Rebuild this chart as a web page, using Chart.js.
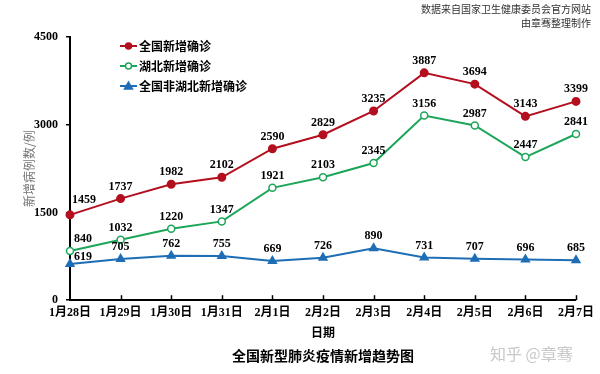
<!DOCTYPE html>
<html>
<head>
<meta charset="utf-8">
<script src="https://cdn.jsdelivr.net/npm/chart.js@4/dist/chart.umd.min.js"></script>
<style>
  html, body { margin: 0; padding: 0; background: #fff; }
  #wrap { position: relative; width: 600px; height: 374px; }
  canvas { position: absolute; left: 0; top: 0; }
  .src { position: absolute; right: 9px; font: 10px "Noto Sans CJK SC", sans-serif; color: #333; text-align: right; line-height: 12px; }
  .wm { position: absolute; left: 490px; top: 341px; font: 16px "Noto Sans CJK SC", sans-serif; color: #c8c8c8; }
</style>
</head>
<body>
<div id="wrap">
  <canvas id="c" width="600" height="374"></canvas>
  <div class="src" style="top:3px">数据来自国家卫生健康委员会官方网站</div>
  <div class="src" style="top:17px">由章骞整理制作</div>
  <div class="wm">知乎 @章骞</div>
</div>
<script>
const categories = ['1月28日','1月29日','1月30日','1月31日','2月1日','2月2日','2月3日','2月4日','2月5日','2月6日','2月7日'];
const national = [1459, 1737, 1982, 2102, 2590, 2829, 3235, 3887, 3694, 3143, 3399];
const hubei = [840, 1032, 1220, 1347, 1921, 2103, 2345, 3156, 2987, 2447, 2841];
const nonHubei = [619, 705, 762, 755, 669, 726, 890, 731, 707, 696, 685];
const seriesNames = ['全国新增确诊', '湖北新增确诊', '全国非湖北新增确诊'];
const yTicks = [0, 1500, 3000, 4500];

const RED = '#B40F1E', GREEN = '#1DA65A', BLUE = '#1E6EB6';
const NUM_FONT = 'bold 12px "Liberation Serif", "Noto Sans CJK SC", serif';

const labelPlugin = {
  id: 'valueLabels',
  afterDatasetsDraw(chart) {
    const ctx = chart.ctx;
    ctx.save();
    ctx.font = NUM_FONT;
    ctx.fillStyle = '#000';
    ctx.textAlign = 'center';
    ctx.textBaseline = 'middle';
    const firstOffsets = [[14, -15], [13, -12], [13, -7]];
    chart.data.datasets.forEach((ds, di) => {
      const meta = chart.getDatasetMeta(di);
      meta.data.forEach((pt, i) => {
        let dx = 0, dy = -12;
        if (i === 0) { dx = firstOffsets[di][0]; dy = firstOffsets[di][1]; }
        ctx.fillText(String(ds.data[i]), pt.x + dx, pt.y + dy);
      });
    });
    ctx.restore();
  }
};

const legendPlugin = {
  id: 'innerLegend',
  afterDraw(chart) {
    const ctx = chart.ctx;
    ctx.save();
    const x0 = 120, ys = [46, 66, 86];
    chart.data.datasets.forEach((ds, di) => {
      const y = ys[di];
      ctx.strokeStyle = ds.borderColor;
      ctx.lineWidth = 2;
      ctx.beginPath(); ctx.moveTo(x0, y); ctx.lineTo(x0 + 17, y); ctx.stroke();
      const cx = x0 + 8.5;
      ctx.fillStyle = ds.pointBackgroundColor;
      ctx.strokeStyle = ds.borderColor;
      ctx.lineWidth = 1.5;
      ctx.beginPath();
      if (ds.pointStyle === 'triangle') {
        ctx.moveTo(cx, y - 4); ctx.lineTo(cx + 4, y + 3); ctx.lineTo(cx - 4, y + 3); ctx.closePath();
      } else {
        ctx.arc(cx, y, 3, 0, Math.PI * 2);
      }
      ctx.fill(); ctx.stroke();
      ctx.fillStyle = '#000';
      ctx.font = 'bold 12px "Noto Sans CJK SC", serif';
      ctx.textAlign = 'left';
      ctx.textBaseline = 'middle';
      ctx.fillText(seriesNames[di], x0 + 19, y);
    });
    ctx.restore();
  }
};

const xTickPlugin = {
  id: 'xInnerTicks',
  afterDraw(chart) {
    const ctx = chart.ctx;
    const xs = chart.scales.x;
    const bottom = chart.chartArea.bottom;
    ctx.save();
    ctx.strokeStyle = '#000';
    ctx.lineWidth = 1.5;
    xs.ticks.forEach((t, i) => {
      if (i === 0) return;
      const px = Math.round(xs.getPixelForTick(i)) + 0.5;
      ctx.beginPath(); ctx.moveTo(px, bottom); ctx.lineTo(px, bottom - 5); ctx.stroke();
    });
    ctx.restore();
  }
};

new Chart(document.getElementById('c'), {
  type: 'line',
  data: {
    labels: categories,
    datasets: [
      { label: seriesNames[0], data: national, borderColor: RED, backgroundColor: RED,
        pointBackgroundColor: RED, pointBorderColor: RED, pointStyle: 'circle', pointRadius: 3.5, borderWidth: 2, tension: 0 },
      { label: seriesNames[1], data: hubei, borderColor: GREEN, backgroundColor: '#fff',
        pointBackgroundColor: '#fff', pointBorderColor: GREEN, pointBorderWidth: 1.5, pointStyle: 'circle', pointRadius: 3.5, borderWidth: 2, tension: 0 },
      { label: seriesNames[2], data: nonHubei, borderColor: BLUE, backgroundColor: BLUE,
        pointBackgroundColor: BLUE, pointBorderColor: BLUE, pointStyle: 'triangle', pointRadius: 4, borderWidth: 2, tension: 0 }
    ]
  },
  options: {
    responsive: false,
    animation: false,
    events: [],
    layout: { padding: { left: 0, right: 24, top: 37, bottom: 10 } },
    plugins: {
      legend: { display: false },
      tooltip: { enabled: false },
      title: {
        display: true,
        text: '全国新型肺炎疫情新增趋势图',
        position: 'bottom',
        fullSize: false,
        color: '#000',
        font: { family: '"Noto Sans CJK SC", serif', size: 14, weight: 'bold' },
        padding: { top: 5, bottom: 0 }
      }
    },
    scales: {
      x: {
        type: 'category',
        offset: false,
        grid: { display: false, drawTicks: false },
        border: { display: true, color: '#000', width: 2 },
        ticks: {
          color: '#000', maxRotation: 0, autoSkip: false, padding: 6,
          font: { family: '"Liberation Serif", "Noto Sans CJK SC", serif', size: 12, weight: 'bold' }
        },
        title: {
          display: true, text: '日期', color: '#000',
          font: { family: '"Noto Sans CJK SC", serif', size: 12, weight: 'bold' },
          padding: { top: 2, bottom: 3 }
        },
        afterFit(scale) { scale.height = 42; }
      },
      y: {
        min: 0, max: 4500,
        afterBuildTicks(scale) { scale.ticks = yTicks.map(v => ({ value: v })); },
        grid: { display: true, drawOnChartArea: false, drawTicks: true, tickLength: 4, color: '#000', lineWidth: 1.5 },
        border: { display: true, color: '#000', width: 2 },
        ticks: {
          color: '#000', padding: 8,
          callback: (v) => String(v),
          font: { family: '"Liberation Serif", serif', size: 12, weight: 'bold' }
        },
        title: {
          display: true, text: '新增病例数/例', color: '#777',
          font: { family: '"Noto Sans CJK SC", serif', size: 12 },
          padding: { top: 22, bottom: 0 }
        },
        afterFit(scale) { scale.width = 70; }
      }
    }
  },
  plugins: [labelPlugin, legendPlugin, xTickPlugin]
});
</script>
</body>
</html>
